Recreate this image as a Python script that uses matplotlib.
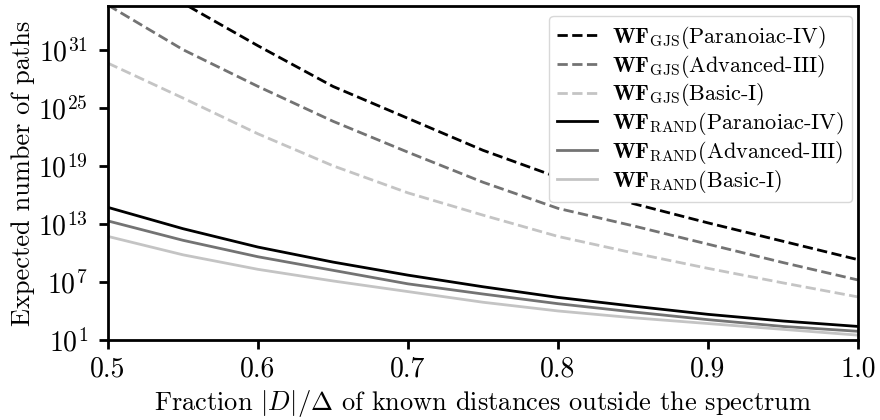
import numpy as np
import matplotlib
matplotlib.use('Agg')
import matplotlib.pyplot as plt
from matplotlib.ticker import NullLocator

plt.rcParams['font.family'] = 'cmr10'
plt.rcParams['mathtext.fontset'] = 'cm'
plt.rcParams['axes.formatter.use_mathtext'] = True

# fraction |D|/Delta
fractions = [0.50, 0.55, 0.60, 0.65, 0.70, 0.75, 0.80, 0.85, 0.90, 0.95, 1.00]

# log10 of expected number of paths
gjs_paranoiac = [40.3, 35.8, 31.4, 27.2, 23.9, 20.6, 17.8, 15.1, 13.1, 11.2, 9.3]
gjs_advanced = [35.6, 31.0, 27.2, 23.6, 20.4, 17.3, 14.6, 12.8, 10.9, 9.0, 7.2]
gjs_basic = [29.6, 26.0, 22.3, 19.0, 16.2, 13.9, 11.7, 10.0, 8.4, 6.9, 5.45]
rand_paranoiac = [14.7, 12.5, 10.6, 9.05, 7.7, 6.5, 5.4, 4.5, 3.65, 2.96, 2.4]
rand_advanced = [13.3, 11.3, 9.6, 8.2, 6.8, 5.75, 4.75, 3.9, 3.1, 2.4, 1.9]
rand_basic = [11.7, 9.8, 8.3, 7.1, 6.0, 4.9, 4.0, 3.3, 2.7, 2.1, 1.5]

series = [
    (r'$\mathbf{WF}_{\mathrm{GJS}}$(Paranoiac-IV)', gjs_paranoiac, '#000000', '--'),
    (r'$\mathbf{WF}_{\mathrm{GJS}}$(Advanced-III)', gjs_advanced, '#737373', '--'),
    (r'$\mathbf{WF}_{\mathrm{GJS}}$(Basic-I)', gjs_basic, '#c4c4c4', '--'),
    (r'$\mathbf{WF}_{\mathrm{RAND}}$(Paranoiac-IV)', rand_paranoiac, '#000000', '-'),
    (r'$\mathbf{WF}_{\mathrm{RAND}}$(Advanced-III)', rand_advanced, '#737373', '-'),
    (r'$\mathbf{WF}_{\mathrm{RAND}}$(Basic-I)', rand_basic, '#c4c4c4', '-'),
]

fig = plt.figure(figsize=(8.8, 4.2), dpi=100)
ax = fig.add_axes([0.1227, 0.1905, 0.8523, 0.795])

for label, vals, col, ls in series:
    ax.plot(fractions, 10.0 ** np.array(vals), color=col, ls=ls, lw=2,
            label=label)

ax.set_yscale('log')
ax.set_xlim(0.5, 1.0)
ax.set_ylim(10 ** 1, 10 ** 35.5)
ax.set_yticks([10.0 ** k for k in range(1, 36, 6)])
ax.yaxis.set_minor_locator(NullLocator())
ax.set_xticks([0.5, 0.6, 0.7, 0.8, 0.9, 1.0])
ax.set_xticklabels(['0.5', '0.6', '0.7', '0.8', '0.9', '1.0'])

for sp in ax.spines.values():
    sp.set_linewidth(2)
ax.tick_params(axis='both', which='major', length=6.5, width=2,
               labelsize=20, direction='out')
ax.tick_params(axis='x', pad=5)
ax.tick_params(axis='y', pad=8)

ax.set_xlabel(r'Fraction $|D|/\Delta$ of known distances outside the spectrum',
              fontsize=19, labelpad=4)
ax.set_ylabel('Expected number of paths', fontsize=19, labelpad=2)

leg = ax.legend(loc='upper right', bbox_to_anchor=(852 / 880, 1 - 16 / 420),
                bbox_transform=fig.transFigure, borderaxespad=0,
                fontsize=16.0, fancybox=True, framealpha=1.0,
                edgecolor='#d8d8d8', labelspacing=0.08, handlelength=1.8,
                borderpad=0.35, handletextpad=0.7)

fig.savefig('out.png', dpi=100)
